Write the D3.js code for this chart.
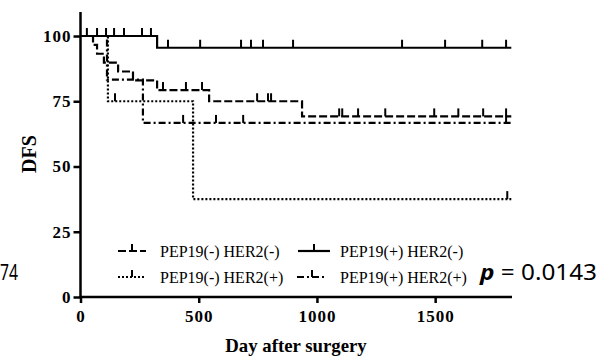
<!DOCTYPE html>
<html>
<head>
<meta charset="utf-8">
<script src="https://cdn.jsdelivr.net/npm/d3@7"></script>
<style>
  body { margin: 0; background: #fff; }
  svg { display: block; }
  .tickText { font-family: "Liberation Serif", "Times New Roman", serif; font-weight: bold; font-size: 17px; letter-spacing: 1px; fill: #000; }
  .legendText { font-family: "Liberation Serif", "Times New Roman", serif; font-size: 16px; fill: #000; }
  .axisTitle { font-family: "Liberation Serif", "Times New Roman", serif; font-weight: bold; fill: #000; }
  .sideText { font-family: "Noto Sans", sans-serif; font-size: 22px; fill: #000; }
</style>
</head>
<body>
<div id="chart"></div>
<script>
// group names (legend order: row by row)
var groupNames = ["PEP19(-) HER2(-)", "PEP19(+) HER2(-)", "PEP19(-) HER2(+)", "PEP19(+) HER2(+)"];

// step changes of each curve: day of the drop and DFS (%) after it
var negNegDays = [0, 53, 70, 99, 159, 222, 324, 544, 937];
var negNegDfs = [100, 96.6, 93.2, 89.8, 86.4, 83.0, 79.3, 75.0, 69.2];
var negNegCensor = [349, 446, 514, 747, 793, 806, 1094, 1107, 1174, 1289, 1496, 1598, 1703, 1800];

var posNegDays = [0, 324];
var posNegDfs = [100, 95.5];
var posNegCensor = [27, 70, 108, 142, 184, 260, 298, 370, 506, 679, 721, 772, 899, 1360, 1542, 1699, 1800];

var negPosDays = [0, 116, 476];
var negPosDfs = [100, 75, 37.5];
var negPosCensor = [146, 1805];

var posPosDays = [0, 112, 264];
var posPosDfs = [100, 83.3, 66.7];
var posPosCensor = [434, 573, 688, 1800];

var lastDay = 1822;

var xTicks = [0, 500, 1000, 1500];
var yTicks = [0, 25, 50, 75, 100];

var pText = "= 0.0143";
var nText = "74";

function init() {

    var w = 606;
    var h = 360;

    var xScale = d3.scaleLinear().domain([0, 1825]).range([80.5, 512]);
    var yScale = d3.scaleLinear().domain([0, 109.2]).range([297, 12]);

    var svg = d3.select("#chart")
        .append("svg")
        .attr("width", w)
        .attr("height", h);

    //dash styles for each group
    var dashes = ["8,3", null, "2,2", "7,3,2,3"];

    var groups = [
        {days: negNegDays, dfs: negNegDfs, censor: negNegCensor},
        {days: posNegDays, dfs: posNegDfs, censor: posNegCensor},
        {days: negPosDays, dfs: negPosDfs, censor: negPosCensor},
        {days: posPosDays, dfs: posPosDfs, censor: posPosCensor}
    ];

    function dfsAt(g, t) {
        var v = g.dfs[0];
        for (var i = 0; i < g.days.length; i++) {
            if (g.days[i] <= t) v = g.dfs[i];
        }
        return v;
    }

    var line = d3.line()
        .curve(d3.curveStepAfter)
        .x(function(d) { return xScale(d.day); })
        .y(function(d) { return yScale(d.s); });

    //Axes
    var xAxis = d3.axisBottom(xScale)
        .tickValues(xTicks)
        .tickSize(6)
        .tickPadding(7)
        .tickFormat(d3.format("d"));

    var yAxis = d3.axisLeft(yScale)
        .tickValues(yTicks)
        .tickSize(7)
        .tickPadding(2)
        .tickFormat(d3.format("d"));

    var gx = svg.append("g")
        .attr("transform", "translate(0," + yScale(0) + ")")
        .call(xAxis);
    gx.select(".domain").remove();
    gx.selectAll("line").attr("stroke", "#000").attr("stroke-width", 2.5);
    gx.selectAll("text").attr("class", "tickText");

    var gy = svg.append("g")
        .attr("transform", "translate(" + xScale(0) + ",0)")
        .call(yAxis);
    gy.select(".domain").remove();
    gy.selectAll("line").attr("stroke", "#000").attr("stroke-width", 2.5);
    gy.selectAll("text").attr("class", "tickText");

    svg.append("line")
        .attr("x1", xScale(0) - 1).attr("x2", xScale.range()[1])
        .attr("y1", yScale(0)).attr("y2", yScale(0))
        .attr("stroke", "#000").attr("stroke-width", 2.5);

    svg.append("line")
        .attr("x1", xScale(0)).attr("x2", xScale(0))
        .attr("y1", yScale(0) + 1).attr("y2", yScale.range()[1])
        .attr("stroke", "#000").attr("stroke-width", 2.5);

    //Curves
    groups.forEach(function(g, i) {
        var pts = g.days.map(function(d, j) { return {day: d, s: g.dfs[j]}; });
        pts.push({day: lastDay, s: g.dfs[g.dfs.length - 1]});

        svg.append("path")
            .datum(pts)
            .attr("d", line)
            .attr("fill", "none")
            .attr("stroke", "#000")
            .attr("stroke-width", 2.2)
            .attr("stroke-dasharray", dashes[i]);

        svg.selectAll(".censor" + i)
            .data(g.censor)
            .enter()
            .append("line")
            .attr("class", "censor" + i)
            .attr("x1", function(d) { return xScale(d); })
            .attr("x2", function(d) { return xScale(d); })
            .attr("y1", function(d) { return yScale(dfsAt(g, d)); })
            .attr("y2", function(d) { return yScale(dfsAt(g, d)) - 8; })
            .attr("stroke", "#000")
            .attr("stroke-width", 2);
    });

    //Legend
    var legendPos = [
        {x: 118, y: 251, len: 28, tx: 160},
        {x: 298, y: 251, len: 32, tx: 340},
        {x: 118, y: 277, len: 28, tx: 160},
        {x: 297, y: 277, len: 30, tx: 340}
    ];

    groupNames.forEach(function(name, i) {
        var p = legendPos[i];
        svg.append("line")
            .attr("x1", p.x).attr("x2", p.x + p.len)
            .attr("y1", p.y).attr("y2", p.y)
            .attr("stroke", "#000")
            .attr("stroke-width", 2.2)
            .attr("stroke-dasharray", dashes[i]);
        svg.append("line")
            .attr("x1", p.x + p.len / 2).attr("x2", p.x + p.len / 2)
            .attr("y1", p.y).attr("y2", p.y - 7)
            .attr("stroke", "#000")
            .attr("stroke-width", 2);
        svg.append("text")
            .attr("class", "legendText")
            .attr("x", p.tx)
            .attr("y", p.y + 6)
            .text(name);
    });

    //Axis titles
    svg.append("text")
        .attr("class", "axisTitle")
        .attr("transform", "translate(36,154) rotate(-90)")
        .attr("text-anchor", "middle")
        .style("font-size", "20px")
        .text("DFS");

    svg.append("text")
        .attr("class", "axisTitle")
        .attr("x", 296)
        .attr("y", 352)
        .attr("text-anchor", "middle")
        .style("font-size", "18.8px")
        .text("Day after surgery");

    //side annotations
    svg.append("text")
        .attr("class", "sideText")
        .attr("x", 0)
        .attr("y", 280)
        .attr("textLength", 18)
        .attr("lengthAdjust", "spacingAndGlyphs")
        .text(nText);

    var pt = svg.append("text")
        .attr("class", "sideText")
        .attr("x", 480)
        .attr("y", 280)
        .attr("textLength", 117)
        .attr("lengthAdjust", "spacingAndGlyphs");
    pt.append("tspan")
        .style("font-style", "italic")
        .style("font-weight", "bold")
        .text("p");
    pt.append("tspan")
        .text(" " + pText);
}
window.onload = init;
</script>
</body>
</html>
